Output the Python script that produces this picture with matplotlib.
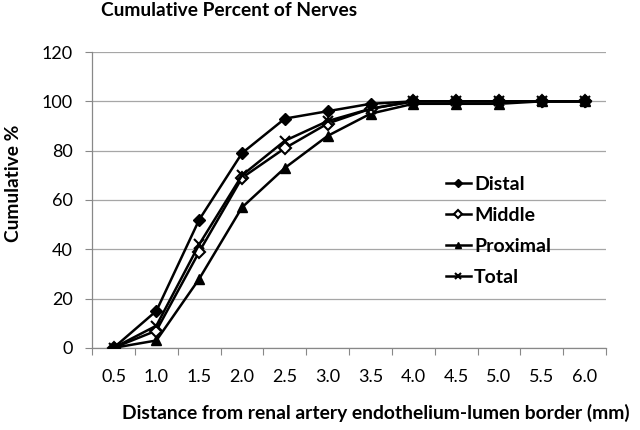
import matplotlib
matplotlib.use("Agg")
import matplotlib.pyplot as plt
import numpy as np

categories = ["0.5", "1.0", "1.5", "2.0", "2.5", "3.0", "3.5", "4.0", "4.5", "5.0", "5.5", "6.0"]
distal = [0, 15, 52, 79, 93, 96, 99, 100, 100, 100, 100, 100]
middle = [0, 7, 39, 69, 81, 91, 97, 100, 100, 100, 100, 100]
proximal = [0, 3, 28, 57, 73, 86, 95, 99, 99, 99, 100, 100]
total = [0, 9, 42, 70, 84, 92, 97, 100, 100, 100, 100, 100]
yticks = [0, 20, 40, 60, 80, 100, 120]

fig = plt.figure(figsize=(6.4, 4.3), dpi=100)
ax = fig.add_axes([0.144, 0.191, 0.803, 0.688])

x = np.arange(len(categories))
lw = 1.8
ax.plot(x, distal, color="black", lw=lw, marker="D", ms=6, mfc="black", mec="black", label="Distal", zorder=5)
ax.plot(x, middle, color="black", lw=lw, marker="D", ms=6.5, mfc="white", mec="black", mew=1.5, label="Middle", zorder=4)
ax.plot(x, proximal, color="black", lw=lw, marker="^", ms=7, mfc="black", mec="black", label="Proximal", zorder=3)
ax.plot(x, total, color="black", lw=lw, marker="x", ms=7, mew=1.5, label="Total", zorder=6)

ax.set_xlim(-0.5, len(categories) - 0.5)
ax.set_ylim(0, 120)
ax.set_yticks(yticks)
ax.yaxis.grid(True, color="#a6a6a6", lw=0.9)
ax.set_axisbelow(True)

ax.set_xticks(np.arange(-0.5, len(categories), 1.0))
ax.set_xticklabels([])
ax.set_xticks(x, minor=True)
ax.set_xticklabels(categories, minor=True)
ax.tick_params(axis="x", which="major", length=5, color="#888888", direction="out")
ax.tick_params(axis="x", which="minor", length=0, pad=15, labelsize=13)
ax.tick_params(axis="y", length=5, color="#888888", labelsize=13, pad=9)
for lab in ax.get_xticklabels(minor=True) + ax.get_yticklabels():
    lab.set_fontfamily("Lato")

for s in ["top", "right"]:
    ax.spines[s].set_visible(False)
for s in ["left", "bottom"]:
    ax.spines[s].set_color("#888888")
    ax.spines[s].set_linewidth(0.9)

fig.text(0.021, 1 - 183 / 430, "Cumulative %", fontsize=13.8, fontweight="bold",
         family="Lato", rotation=90, ha="center", va="center")
fig.text(376 / 640, 1 - 413 / 430, "Distance from renal artery endothelium-lumen border (mm)",
         fontsize=13.9, fontweight="bold", family="Lato", ha="center", va="center")
fig.text(101 / 640, 1 - 11 / 430, "Cumulative Percent of Nerves", fontsize=13.8, fontweight="bold",
         family="Lato", ha="left", va="center")

leg = ax.legend(loc="upper left", bbox_to_anchor=(0.673, 0.607), frameon=False,
                prop={"family": "Lato", "weight": "bold", "size": 14}, markerscale=0.7,
                handlelength=1.3, handletextpad=0.15, labelspacing=0.72, borderaxespad=0)

fig.savefig("out.png", dpi=100)
